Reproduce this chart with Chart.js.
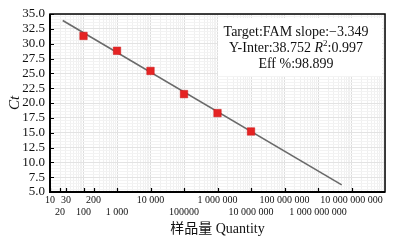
<!DOCTYPE html>
<html>
<head>
<meta charset="utf-8">
<script src="https://cdn.jsdelivr.net/npm/chart.js@4.4.0/dist/chart.umd.min.js"></script>
<style>
  html, body { margin: 0; padding: 0; background: #fff; }
</style>
</head>
<body>
<canvas id="chart" width="400" height="240"></canvas>
<script>
// standard curve data
const quantities = [100, 1000, 10000, 100000, 1000000, 10000000];
const ctValues = [31.3, 28.8, 25.4, 21.5, 18.3, 15.2];
// fitted line end points
const fitX = [24, 5.1e9];
const fitY = [33.9, 6.2];

const xTickValues = [10, 20, 30, 100, 200, 1e3, 1e4, 1e5, 1e6, 1e7, 1e8, 1e9, 1e10];
const xTickLabels = ['10', '20', '30', '100', '200', '1 000', '10 000', '100000',
  '1 000 000', '10 000 000', '100 000 000', '1 000 000 000', '10 000 000 000'];
const yTickLabels = ['5.0', '7.5', '10.0', '12.5', '15.0', '17.5', '20.0',
  '22.5', '25.0', '27.5', '30.0', '32.5', '35.0'];

const statLine1 = 'Target:FAM slope:\u22123.349';
const statLine2 = ['Y-Inter:38.752 ', 'R', '2', ':0.997'];
const statLine3 = 'Eff %:98.899';

const serif = "'Liberation Serif', 'Times New Roman', serif";

// minor log grid (1..9 x 10^k)
const xGrid = [];
for (let k = 1; k <= 10; k++) {
    for (let m = 1; m <= 9; m++) xGrid.push(m * Math.pow(10, k));
}
xGrid.push(1e11);
const yGrid = [];
for (let i = 0; i <= 60; i++) yGrid.push(5 + i * 0.5);

const frame = {
    id: 'frame',
    beforeDatasetsDraw(chart) {
        const c = chart.ctx;
        c.save();
        c.fillStyle = '#fff';
        c.fillRect(218, 18, 164, 58);
        c.fillStyle = '#111';
        c.textBaseline = 'middle';
        c.textAlign = 'center';
        c.font = '14px ' + serif;
        c.fillText(statLine1, 296, 32);
        c.fillText(statLine3, 296, 64);

        // line 2 with italic R and superscript 2
        c.textAlign = 'left';
        const fN = '14px ' + serif, fI = 'italic 14px ' + serif, fS = '9px ' + serif;
        const fonts = [fN, fI, fS, fN];
        let total = 0;
        const widths = statLine2.map((t, i) => { c.font = fonts[i]; const w = c.measureText(t).width; total += w; return w; });
        let x = 296 - total / 2;
        statLine2.forEach((t, i) => {
            c.font = fonts[i];
            c.fillText(t, x, i === 2 ? 44 : 48);
            x += widths[i];
        });
        c.restore();
    },
    afterDraw(chart) {
        const c = chart.ctx;
        const a = chart.chartArea;
        const xs = chart.scales.x, ys = chart.scales.y;
        c.save();
        c.strokeStyle = '#000';
        c.lineWidth = 1.5;
        c.strokeRect(a.left, a.top, a.right - a.left, a.bottom - a.top);
        c.lineWidth = 2;
        c.beginPath();
        c.moveTo(a.left, a.top);
        c.lineTo(a.left, a.bottom);
        c.lineTo(a.right, a.bottom);
        c.stroke();
        c.lineWidth = 1.2;
        c.beginPath();
        xTickValues.forEach(v => {
            const px = Math.round(xs.getPixelForValue(v)) + 0.5;
            c.moveTo(px, a.bottom);
            c.lineTo(px, a.bottom - 4);
        });
        yGrid.forEach(v => {
            if (v % 2.5 !== 0) return;
            const py = Math.round(ys.getPixelForValue(v)) + 0.5;
            c.moveTo(a.left, py);
            c.lineTo(a.left + 4, py);
        });
        c.stroke();
        c.restore();
    }
};

const ctx = document.getElementById('chart').getContext('2d');
new Chart(ctx, {
    type: 'scatter',
    data: {
        datasets: [
            {
                data: quantities.map((q, i) => ({ x: q, y: ctValues[i] })),
                pointStyle: 'rect',
                pointRadius: 5.3,
                backgroundColor: '#e52323',
                borderColor: '#c81818',
                borderWidth: 0.5,
                order: 0
            },
            {
                type: 'line',
                data: fitX.map((x, i) => ({ x: x, y: fitY[i] })),
                borderColor: '#6a6a6a',
                borderWidth: 1.6,
                pointRadius: 0,
                order: 1
            }
        ]
    },
    options: {
        responsive: false,
        animation: false,
        devicePixelRatio: 1,
        layout: { padding: { left: 0, top: 14, right: 15, bottom: 0 } },
        plugins: { legend: { display: false }, tooltip: { enabled: false } },
        scales: {
            x: {
                type: 'logarithmic',
                min: 10,
                max: 1e11,
                afterBuildTicks: s => { s.ticks = xGrid.map(v => ({ value: v })); },
                afterFit: s => { s.height = 48; },
                border: { display: false },
                grid: {
                    drawTicks: false,
                    lineWidth: 1,
                    color: c => {
                        const v = c.tick ? c.tick.value : 0;
                        return Math.abs(Math.log10(v) % 1) < 1e-9 ? '#dedede' : '#f0f0f0';
                    }
                },
                ticks: {
                    autoSkip: false,
                    maxRotation: 0,
                    minRotation: 0,
                    padding: 2,
                    color: '#111',
                    font: { family: serif, size: 10 },
                    callback: v => {
                        const i = xTickValues.indexOf(v);
                        if (i < 0) return '';
                        return i % 2 === 0 ? [xTickLabels[i], ''] : ['', xTickLabels[i]];
                    }
                },
                title: {
                    display: true,
                    text: '样品量 Quantity',
                    color: '#111',
                    font: { family: serif + ", 'Noto Sans CJK SC'", size: 14 },
                    padding: { top: 0, bottom: 2 }
                }
            },
            y: {
                min: 5,
                max: 35,
                afterBuildTicks: s => { s.ticks = yGrid.map(v => ({ value: v })); },
                afterFit: s => { s.width = 50; },
                border: { display: false },
                grid: {
                    drawTicks: false,
                    lineWidth: 1,
                    color: c => (c.tick && c.tick.value % 2.5 === 0) ? '#e3e3e3' : '#f3f3f3'
                },
                ticks: {
                    autoSkip: false,
                    padding: 5,
                    color: '#111',
                    font: { family: serif, size: 13 },
                    callback: v => v % 2.5 === 0 ? yTickLabels[Math.round((v - 5) / 2.5)] : ''
                },
                title: {
                    display: true,
                    text: 'Ct',
                    color: '#111',
                    font: { family: serif, size: 15, style: 'italic' },
                    padding: { top: 6, bottom: 0 }
                }
            }
        }
    },
    plugins: [frame]
});
</script>
</body>
</html>
